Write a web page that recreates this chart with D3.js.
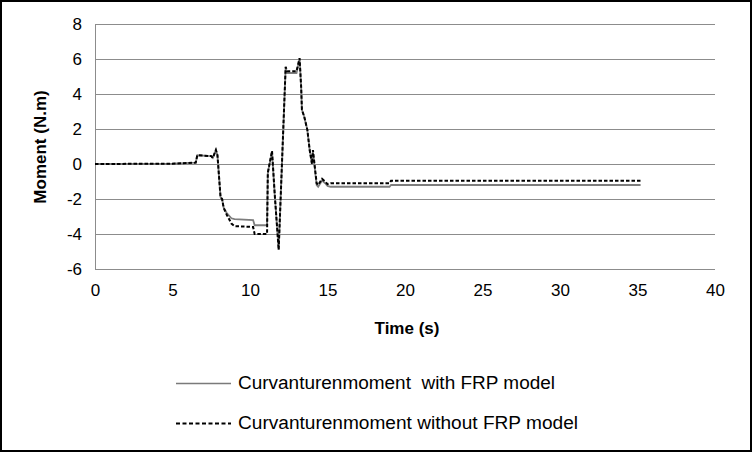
<!DOCTYPE html>
<html><head><meta charset="utf-8">
<script src="https://cdn.jsdelivr.net/npm/d3@7"></script>
<style>
html,body{margin:0;padding:0;background:#fff;}
svg{display:block;}
text{font-family:"Liberation Sans Narrow","Liberation Sans",Arial,sans-serif;fill:#000;}
</style></head>
<body>
<svg id="c" width="752" height="452"></svg>
<script>
const time =        [0, 5, 6.5, 6.6, 7.5, 7.6, 7.8, 7.9, 8.1, 8.2, 8.3, 8.5, 8.8, 9.0, 10.2, 10.3, 11.1, 11.15, 11.42, 11.6, 11.85, 12.3, 12.4, 13.0, 13.2, 13.3, 13.35, 13.5, 13.7, 13.85, 14.0, 14.06, 14.3, 14.4, 14.65, 14.85, 15.0, 15.2, 19.0, 19.1, 35.2];
const withFRP =     [0, 0.02, 0.08, 0.5, 0.45, 0.35, 0.8, 0.5, -1.9, -2.0, -2.5, -2.8, -3.1, -3.15, -3.2, -3.5, -3.5, -0.5, 0.7, -1.8, -4.9, 5.5, 5.2, 5.2, 6.0, 4.4, 3.1, 2.7, 1.95, 0.8, 0.0, 0.7, -1.2, -1.3, -0.95, -1.1, -1.25, -1.3, -1.3, -1.2, -1.2];
const withoutFRP =  [0, 0.02, 0.08, 0.5, 0.45, 0.35, 0.8, 0.5, -1.9, -2.0, -2.5, -2.9, -3.4, -3.55, -3.6, -4.0, -4.0, -0.5, 0.75, -1.8, -4.9, 5.55, 5.3, 5.3, 6.05, 4.4, 3.1, 2.7, 1.95, 0.8, 0.0, 0.8, -1.1, -1.2, -0.85, -1.0, -1.15, -1.1, -1.1, -0.95, -0.95];
const xTicks = [0, 5, 10, 15, 20, 25, 30, 35, 40];
const yTicks = [-6, -4, -2, 0, 2, 4, 6, 8];
const seriesNames = ["Curvanturenmoment  with FRP model", "Curvanturenmoment without FRP model"];

const svg = d3.select("#c");
svg.append("rect").attr("x",1).attr("y",1).attr("width",750).attr("height",450)
  .attr("fill","#fff").attr("stroke","#000").attr("stroke-width",2);

const x = d3.scaleLinear().domain([0,40]).range([95,715]);
const y = d3.scaleLinear().domain([-6,8]).range([269,24]);

// gridlines
svg.append("g").selectAll("line").data(yTicks).join("line")
  .attr("x1",x(0)).attr("x2",x(40))
  .attr("y1",d=>Math.round(y(d))+0.5).attr("y2",d=>Math.round(y(d))+0.5)
  .attr("stroke","#8c8c8c").attr("stroke-width",1);
// left axis line
svg.append("line").attr("x1",x(0)+0.5).attr("x2",x(0)+0.5).attr("y1",y(8)).attr("y2",y(-6)+0.5)
  .attr("stroke","#8c8c8c");

const fmt = d => String(d);
const yAxis = svg.append("g").attr("transform",`translate(${x(0)-8},0)`)
  .call(d3.axisLeft(y).tickValues(yTicks).tickSize(0).tickFormat(fmt));
yAxis.select(".domain").remove();
yAxis.selectAll("text").attr("font-size",17).attr("dx",-2).attr("dy","0.35em")
  .style("font-family","'Liberation Sans Narrow','Liberation Sans',sans-serif").attr("fill","#000");

const xAxis = svg.append("g").attr("transform",`translate(0,${y(-6)+19})`)
  .call(d3.axisBottom(x).tickValues(xTicks).tickSize(0).tickFormat(fmt));
xAxis.select(".domain").remove();
xAxis.selectAll("text").attr("font-size",17).attr("dy","0.3em")
  .style("font-family","'Liberation Sans Narrow','Liberation Sans',sans-serif").attr("fill","#000");

svg.append("text").attr("x",407).attr("y",334).attr("text-anchor","middle")
  .attr("font-size",17).attr("font-weight","bold").text("Time (s)");
svg.append("text").attr("transform","translate(46,147) rotate(-90)").attr("text-anchor","middle")
  .attr("font-size",17).attr("font-weight","bold").text("Moment (N.m)");

const pts = (vals)=> time.map((t,i)=>[t, vals[i]]);
const line = d3.line().x(d=>x(d[0])).y(d=>y(d[1]));

svg.append("path").attr("d",line(pts(withFRP))).attr("fill","none")
  .attr("stroke","#7d7d7d").attr("stroke-width",1.8);
svg.append("path").attr("d",line(pts(withoutFRP))).attr("fill","none")
  .attr("stroke","#000").attr("stroke-width",2).attr("stroke-dasharray","3.5,2");

// legend
const lg = svg.append("g");
lg.append("line").attr("x1",176).attr("x2",231).attr("y1",383.5).attr("y2",383.5)
  .attr("stroke","#7a7a7a").attr("stroke-width",1.5);
lg.append("line").attr("x1",176).attr("x2",231).attr("y1",423.5).attr("y2",423.5)
  .attr("stroke","#000").attr("stroke-width",1.8).attr("stroke-dasharray","4,2.5");
lg.append("text").attr("x",238).attr("y",389).attr("font-size",18).attr("textLength",317)
  .attr("lengthAdjust","spacingAndGlyphs").style("white-space","pre").text(seriesNames[0]);
lg.append("text").attr("x",238).attr("y",429).attr("font-size",18).attr("textLength",340)
  .attr("lengthAdjust","spacingAndGlyphs").text(seriesNames[1]);
</script>
</body></html>
